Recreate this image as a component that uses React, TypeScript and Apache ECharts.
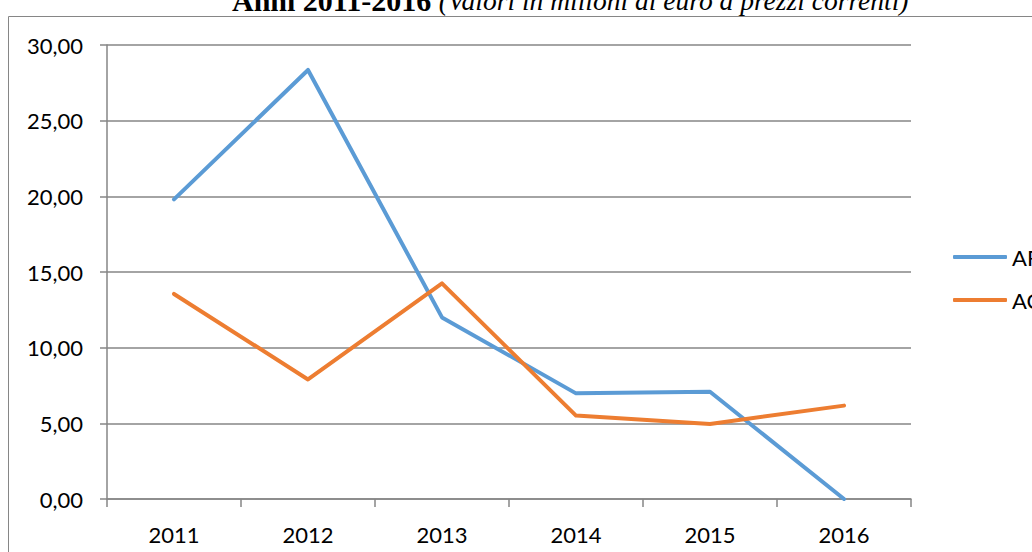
import React, { useEffect, useRef } from "react";
import * as echarts from "echarts";

const years = ["2011", "2012", "2013", "2014", "2015", "2016"];
const seriesNames = ["AR", "AC"];
const arValues = [19.8, 28.35, 12.0, 6.98, 7.09, 0.0];
const acValues = [13.55, 7.9, 14.25, 5.51, 4.96, 6.17];
const seriesColors = ["#5B9BD5", "#ED7D31"];
const titleBold = "Anni 2011-2016 ";
const titleItalic = "(Valori in milioni di euro a prezzi correnti)";

export default function App() {
  const ref = useRef<HTMLDivElement>(null);
  useEffect(() => {
    if (!ref.current) return;
    const chart = echarts.init(ref.current, null, { renderer: "svg" });
    const gray = "#868686";
    chart.setOption({
      animation: false,
      backgroundColor: "#ffffff",
      textStyle: { fontFamily: "Lato" },
      grid: { left: 107, right: 121, top: 45, bottom: 53, containLabel: false },
      graphic: [
        {
          type: "rect",
          shape: { x: 8.5, y: 16.5, width: 2000, height: 2000 },
          style: { fill: "none", stroke: gray, lineWidth: 1 },
          silent: true,
        },
        {
          type: "text",
          x: 232,
          y: 0,
          style: {
            text: `{b|${titleBold}}{i|${titleItalic}}`,
            verticalAlign: "middle",
            rich: {
              b: { fontFamily: "Liberation Serif", fontWeight: "bold", fontSize: 30, fill: "#000" },
              i: { fontFamily: "Liberation Serif", fontStyle: "italic", fontSize: 27.5, fill: "#000" },
            },
          },
          silent: true,
        },
      ],
      legend: {
        orient: "vertical",
        left: 948,
        top: 241,
        itemGap: 21,
        itemWidth: 54,
        itemHeight: 4,
        icon: "roundRect",
        textStyle: { fontFamily: "Lato", fontSize: 22, color: "#000", lineHeight: 22, padding: [0, 0, 0, 0] },
        data: seriesNames,
      },
      xAxis: {
        type: "category",
        data: years,
        boundaryGap: true,
        axisLine: { show: true, lineStyle: { color: gray, width: 1.5 } },
        axisTick: { show: true, length: 8, alignWithLabel: false, lineStyle: { color: gray, width: 1.5 } },
        axisLabel: { color: "#000", fontFamily: "Lato", fontSize: 22, margin: 24 },
        splitLine: { show: false },
      },
      yAxis: {
        type: "value",
        min: 0,
        max: 30,
        interval: 5,
        axisLine: { show: true, lineStyle: { color: gray, width: 1.5 } },
        axisTick: { show: true, length: 7, lineStyle: { color: gray, width: 1.5 } },
        axisLabel: {
          color: "#000",
          fontFamily: "Lato",
          fontSize: 22,
          margin: 24,
          formatter: (v: number) => v.toFixed(2).replace(".", ","),
        },
        splitLine: { show: true, lineStyle: { color: gray, width: 1.5 } },
      },
      series: [
        {
          name: seriesNames[0],
          type: "line",
          data: arValues,
          symbol: "none",
          color: seriesColors[0],
          lineStyle: { width: 4, color: seriesColors[0], cap: "round", join: "round" },
        },
        {
          name: seriesNames[1],
          type: "line",
          data: acValues,
          symbol: "none",
          color: seriesColors[1],
          lineStyle: { width: 4, color: seriesColors[1], cap: "round", join: "round" },
        },
      ],
    });
    return () => chart.dispose();
  }, []);
  return (
    <div
      ref={ref}
      style={{ position: "fixed", left: 0, top: 0, width: 1032, height: 552, overflow: "hidden" }}
    />
  );
}
